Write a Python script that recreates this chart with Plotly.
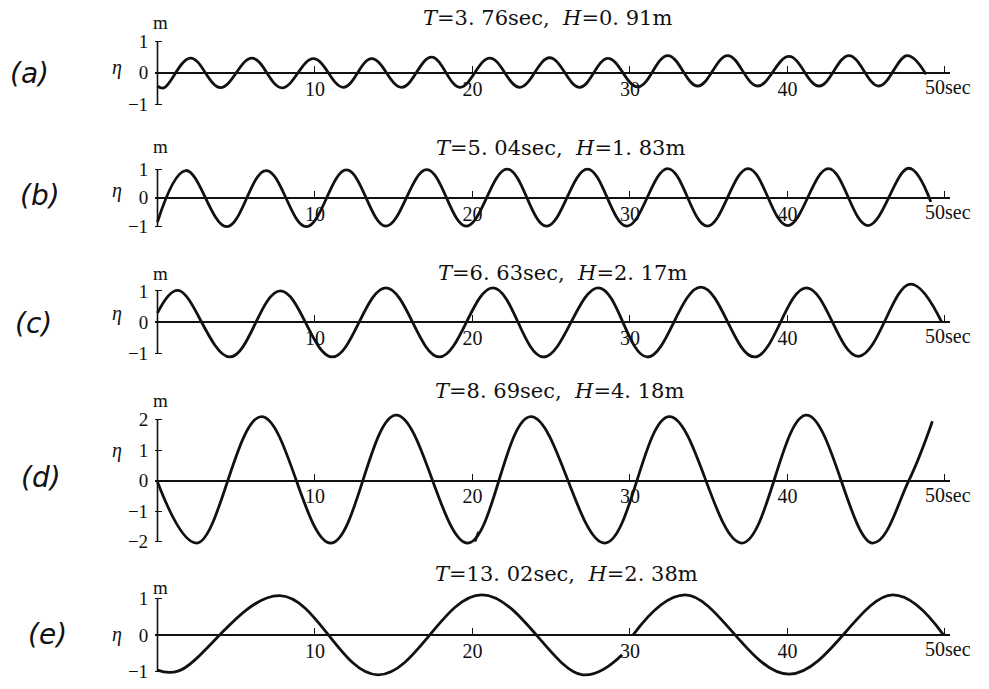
import plotly.graph_objects as go

# ---- wave records: time (sec) and surface elevation eta (m) at crests, troughs and ends ----
t_a = [0.0, 0.4, 2.1, 4.0, 6.0, 7.9, 9.9, 11.8, 13.6, 15.5, 17.4, 19.2, 21.1, 23.0, 24.9,
       26.8, 28.6, 30.5, 32.4, 34.3, 36.2, 38.1, 40.1, 42.0, 43.9, 45.8, 47.6, 48.8]
eta_a = [-0.42, -0.48, 0.47, -0.47, 0.47, -0.48, 0.45, -0.46, 0.45, -0.46, 0.50, -0.46, 0.47, -0.46, 0.48,
         -0.46, 0.46, -0.45, 0.55, -0.42, 0.55, -0.42, 0.52, -0.42, 0.55, -0.42, 0.55, -0.05]

t_b = [0.0, 1.8, 4.4, 6.9, 9.45, 12.0, 14.5, 17.1, 19.6, 22.2, 24.7, 27.3, 29.8, 32.4,
       34.9, 37.5, 40.0, 42.6, 45.1, 47.7, 49.1]
eta_b = [-0.85, 0.95, -1.02, 0.95, -1.02, 0.97, -1.0, 0.98, -1.0, 1.0, -1.0, 1.0, -1.0, 1.02,
         -1.0, 1.02, -0.98, 1.02, -0.98, 1.03, -0.15]

t_c = [0.0, 1.3, 4.6, 7.8, 11.1, 14.5, 17.9, 21.3, 24.5, 28.0, 31.1, 34.5, 37.9, 41.2, 44.5, 47.8, 49.8]
eta_c = [0.3, 1.02, -1.1, 1.0, -1.1, 1.1, -1.1, 1.1, -1.1, 1.1, -1.1, 1.12, -1.1, 1.1, -1.08, 1.22, 0.0]

# record (d), followed by the short pen stroke left at the trough near 20 sec
t_d = [0.0, 2.5, 6.6, 11.0, 15.15, 19.7, 23.7, 28.4, 32.5, 37.1, 41.2, 45.4, 47.7, 49.2,
       None, 20.15, 20.4]
eta_d = [-0.05, -2.05, 2.1, -2.05, 2.15, -2.05, 2.1, -2.05, 2.1, -2.05, 2.15, -2.05, 0.0, 1.95,
         None, -2.0, -1.68]

# record (e) is spliced just before 30 sec, hence the gap
t_e = [0.0, 1.3, 7.75, 14.0, 20.6, 27.0, 29.5, None,
       30.2, 33.5, 40.1, 46.7, 49.9]
eta_e = [-0.97, -1.0, 1.08, -1.1, 1.1, -1.1, -0.55, None,
         0.0, 1.1, -1.08, 1.1, 0.0]

panel_labels = ["(a)", "(b)", "(c)", "(d)", "(e)"]
titles = [
    "<i>T</i>=3. 76sec,  <i>H</i>=0. 91m",
    "<i>T</i>=5. 04sec,  <i>H</i>=1. 83m",
    "<i>T</i>=6. 63sec,  <i>H</i>=2. 17m",
    "<i>T</i>=8. 69sec,  <i>H</i>=4. 18m",
    "<i>T</i>=13. 02sec,  <i>H</i>=2. 38m",
]
y_tickvals = [[-1, 0, 1], [-1, 0, 1], [-1, 0, 1], [-2, -1, 0, 1, 2], [-1, 0, 1]]
x_tickvals = [10, 20, 30, 40, 50]
x_ticktext = ["10", "20", "30", "40", ""]

series = [(t_a, eta_a), (t_b, eta_b), (t_c, eta_c), (t_d, eta_d), (t_e, eta_e)]

# ---- page geometry (pixels) ----
W, H = 989, 689
X0_PX, PX_PER_SEC = 157.5, 15.75
X_MIN, X_MAX = -0.15, 50.3
zero_px = [68, 195, 322, 483, 640]
px_per_m = [32, 29, 32, 31, 37]
half_range = [1.15, 1.2, 1.35, 2.25, 1.3]
title_pos = [(547, 12), (560, 145), (562, 272), (559, 392), (566, 578)]
m_pos = [17, 143, 272, 402, 592]
eta_pos = [63, 188, 313, 452, 640]
lab_pos = [(29, 69), (40, 193), (33, 323), (41, 480), (47, 640)]

SERIF = "Liberation Serif"
INK = "#111111"

def px(x):
    return x / W

def py(y):
    return 1 - y / H

fig = go.Figure()
layout = dict(
    width=W, height=H, margin=dict(l=0, r=0, t=0, b=0),
    paper_bgcolor="white", plot_bgcolor="rgba(0,0,0,0)",
    showlegend=False, shapes=[], annotations=[],
    font=dict(family=SERIF, color=INK),
)

xd0 = px(X0_PX + X_MIN * PX_PER_SEC)
xd1 = px(X0_PX + X_MAX * PX_PER_SEC)

for i, (t, eta) in enumerate(series):
    n = "" if i == 0 else str(i + 1)
    xa, ya = "x" + n, "y" + n
    z, s, r = zero_px[i], px_per_m[i], half_range[i]

    fig.add_trace(go.Scatter(
        x=t, y=eta, xaxis=xa, yaxis=ya, mode="lines",
        line=dict(color=INK, width=2.8, shape="spline", smoothing=1.1),
        connectgaps=False, hoverinfo="skip",
    ))

    layout["xaxis" + n] = dict(
        domain=[xd0, xd1], range=[X_MIN, X_MAX], anchor="free", position=py(z),
        showline=True, linecolor=INK, linewidth=1.8,
        ticks="inside", ticklen=6, tickwidth=1.4, tickcolor=INK,
        tickvals=x_tickvals, ticktext=x_ticktext,
        tickfont=dict(family=SERIF, size=20, color=INK), ticklabelstandoff=-2,
        showgrid=False, zeroline=False, fixedrange=True,
    )
    yv = y_tickvals[i]
    layout["yaxis" + n] = dict(
        domain=[py(z + r * s), py(z - r * s)], range=[-r, r], anchor=xa,
        showline=False, ticks="inside", ticklen=7, tickwidth=1.4, tickcolor=INK,
        tickvals=yv, ticktext=[str(v).replace("-", "\u2212") for v in yv],
        tickfont=dict(family=SERIF, size=19, color=INK), ticklabelstandoff=6,
        showgrid=False, zeroline=False, fixedrange=True,
    )

    # bracket-style vertical axis between the outer ticks
    layout["shapes"].append(dict(
        type="line", xref=xa, yref=ya, x0=0, x1=0, y0=min(yv), y1=max(yv),
        line=dict(color=INK, width=1.6),
    ))

    # time unit after the last tick
    layout["annotations"].append(dict(
        xref=xa, yref=ya, x=50, y=0, text="50sec", showarrow=False,
        xanchor="left", yanchor="top", xshift=-22, yshift=-1,
        font=dict(family=SERIF, size=20, color=INK),
    ))

    tx, ty = title_pos[i]
    layout["annotations"].append(dict(
        xref="paper", yref="paper", x=px(tx), y=py(ty), text=titles[i],
        showarrow=False, xanchor="center", yanchor="middle",
        font=dict(family="DejaVu Serif", size=21, color=INK),
    ))
    layout["annotations"].append(dict(
        xref="paper", yref="paper", x=px(160), y=py(m_pos[i]), text="m",
        showarrow=False, xanchor="center", yanchor="middle",
        font=dict(family=SERIF, size=19, color=INK),
    ))
    layout["annotations"].append(dict(
        xref="paper", yref="paper", x=px(117), y=py(eta_pos[i]), text="<i>\u03b7</i>",
        showarrow=False, xanchor="center", yanchor="middle",
        font=dict(family=SERIF, size=20, color=INK),
    ))
    lx, ly = lab_pos[i]
    layout["annotations"].append(dict(
        xref="paper", yref="paper", x=px(lx), y=py(ly), text="<i>" + panel_labels[i] + "</i>",
        showarrow=False, xanchor="center", yanchor="middle",
        font=dict(family="DejaVu Sans", size=28, color=INK),
    ))

fig.update_layout(**layout)
fig.write_html("out.html")
